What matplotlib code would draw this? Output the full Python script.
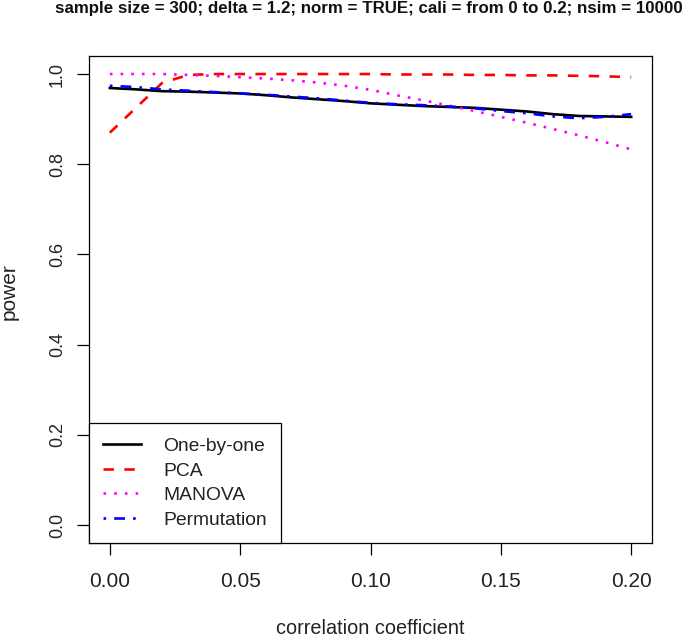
import matplotlib
matplotlib.use('Agg')
import matplotlib.pyplot as plt
from matplotlib import font_manager as fm

# ---------------- data ----------------
corr = [0.00, 0.01, 0.02, 0.03, 0.04, 0.05, 0.06, 0.07, 0.08, 0.09, 0.10,
        0.11, 0.12, 0.13, 0.14, 0.15, 0.16, 0.17, 0.18, 0.19, 0.20]
one_by_one = [0.969, 0.966, 0.962, 0.961, 0.959, 0.957, 0.953, 0.948, 0.944, 0.940, 0.935,
              0.932, 0.929, 0.927, 0.925, 0.921, 0.917, 0.911, 0.907, 0.906, 0.905]
pca = [0.870, 0.925, 0.980, 0.998, 1.000, 1.000, 1.000, 1.000, 1.000, 1.000, 1.000,
       0.999, 0.999, 0.999, 0.998, 0.998, 0.997, 0.997, 0.996, 0.995, 0.993]
manova = [1.000, 1.000, 1.000, 0.998, 0.996, 0.993, 0.990, 0.986, 0.981, 0.974, 0.965,
          0.953, 0.942, 0.930, 0.918, 0.905, 0.892, 0.878, 0.864, 0.849, 0.833]
permutation = [0.974, 0.971, 0.966, 0.963, 0.960, 0.957, 0.954, 0.950, 0.946, 0.941, 0.936,
               0.933, 0.931, 0.928, 0.924, 0.918, 0.913, 0.906, 0.902, 0.905, 0.911]
series_labels = ['One-by-one', 'PCA', 'MANOVA', 'Permutation']
x_ticks = [0.00, 0.05, 0.10, 0.15, 0.20]
x_tick_labels = ['0.00', '0.05', '0.10', '0.15', '0.20']
y_ticks = [0.0, 0.2, 0.4, 0.6, 0.8, 1.0]
y_tick_labels = ['0.0', '0.2', '0.4', '0.6', '0.8', '1.0']
title_text = 'sample size = 300; delta = 1.2; norm = TRUE; cali = from 0 to 0.2; nsim = 10000'
x_label = 'correlation coefficient'
y_label = 'power'

# ---------------- style ----------------
plt.rcParams['lines.scale_dashes'] = False
plt.rcParams['font.family'] = ['Liberation Sans', 'DejaVu Sans']


def has_font(name):
    try:
        fm.findfont(fm.FontProperties(family=name), fallback_to_default=False)
        return True
    except Exception:
        return False


narrow = has_font('Liberation Sans Narrow')

W, H = 685, 640
fig = plt.figure(figsize=(W / 100, H / 100), dpi=100)
L, R, T, B = 89, 652, 56, 543
ax = fig.add_axes([L / W, 1 - B / H, (R - L) / W, (B - T) / H])

lw = 1.9
styles = [
    dict(color='black', linestyle='-'),
    dict(color='#ff0000', dashes=(7.5, 7.5)),
    dict(color='#ff00ff', dashes=(1.9, 5.8)),
    dict(color='#0000ff', dashes=(1.9, 5.8, 7.8, 5.8)),
]
series = [one_by_one, pca, manova, permutation]
handles = []
for ys, st, lab in zip(series, styles, series_labels):
    h, = ax.plot(corr, ys, lw=lw, label=lab, **st)
    handles.append(h)

ax.set_xlim(-0.008, 0.208)
ax.set_ylim(-0.04, 1.04)

for sp in ax.spines.values():
    sp.set_linewidth(0.9)
    sp.set_color('black')

ax.set_xticks(x_ticks)
ax.set_yticks(y_ticks)
ax.tick_params(axis='both', direction='out', length=8.6, width=0.9, color='black')
if narrow:
    xfont = dict(family=['Liberation Sans Narrow', 'Liberation Sans'], size=17)
else:
    xfont = dict(family=['Liberation Sans'], size=15)
ax.set_xticklabels(x_tick_labels, fontdict=xfont, color='#222222')
ax.tick_params(axis='x', pad=12)
ax.set_yticklabels(y_tick_labels, rotation=90, va='center', fontsize=13, color='#222222')
ax.tick_params(axis='y', pad=8)

# legend
leg = ax.legend(handles=handles, loc='lower left', bbox_to_anchor=(0, 0),
                borderaxespad=0, fancybox=False, framealpha=1, edgecolor='black',
                prop=dict(size=13.9), borderpad=0.75, labelspacing=0.36,
                handlelength=1.92, handletextpad=1.18)
leg.get_frame().set_linewidth(0.9)
for t in leg.get_texts():
    t.set_color('#222222')

# axis labels
fig.text(((L + R) / 2) / W, 1.5 / H, x_label, ha='center', va='bottom',
         fontsize=14.3, color='#222222')
fig.text(9 / W, 1 - 292 / H, y_label, ha='center', va='center', rotation=90,
         fontsize=15, color='#222222')

# title fitted to measured width
tt = fig.text(368.5 / W, 1 - 12.7 / H, title_text, ha='center', va='baseline',
              fontsize=10, fontweight='bold', color='#111111')
renderer = fig.canvas.get_renderer()
wpx = tt.get_window_extent(renderer).width
tt.set_fontsize(10 * 627 / wpx)

fig.savefig('out.png', dpi=100)
